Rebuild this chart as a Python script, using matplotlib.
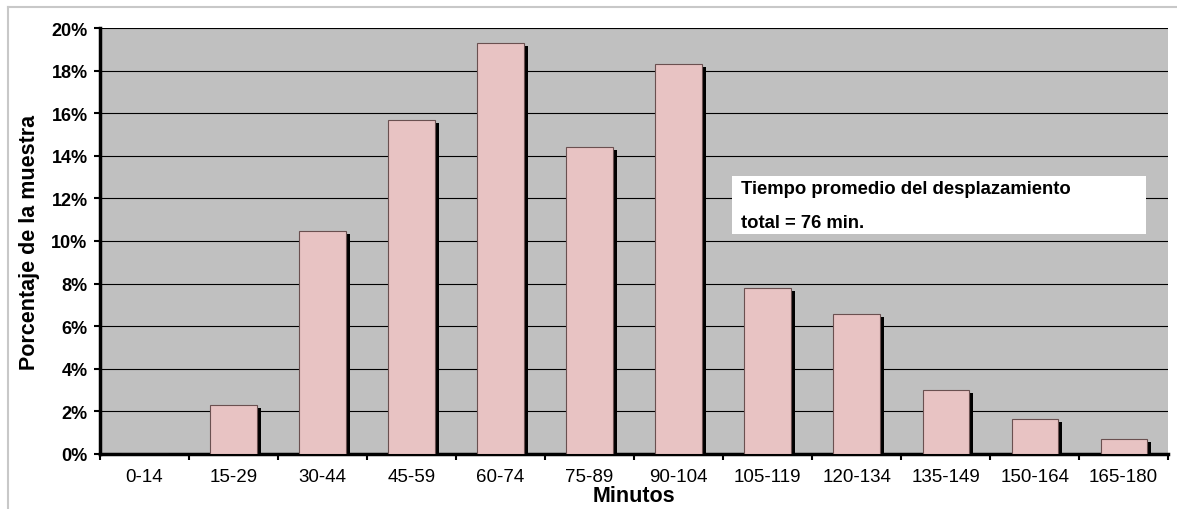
import matplotlib.pyplot as plt
import numpy as np
from matplotlib.lines import Line2D

categorias = ['0-14', '15-29', '30-44', '45-59', '60-74', '75-89', '90-104',
              '105-119', '120-134', '135-149', '150-164', '165-180']
porcentaje = [0.0, 2.3, 10.45, 15.7, 19.3, 14.4, 18.3, 7.8, 6.55, 3.0, 1.65, 0.7]
yticks = [0, 2, 4, 6, 8, 10, 12, 14, 16, 18, 20]

plt.rcParams['font.family'] = ['Liberation Sans', 'DejaVu Sans']

fig = plt.figure(figsize=(11.77, 5.10), dpi=100)
ax = fig.add_axes([0.085, 0.108, 0.9075, 0.835])
ax.set_facecolor('#c0c0c0')

x = np.arange(len(categorias))
w = 0.52
# shadow behind the bars
for xi, v in zip(x, porcentaje):
    if v > 0:
        ax.bar(xi + 0.045, v - 0.14, width=w, color='black', zorder=2)
ax.bar(x, porcentaje, width=w, color='#e8c3c3', edgecolor='#6a5050',
       linewidth=0.8, zorder=3)

ax.set_xlim(-0.5, len(categorias) - 0.5)
ax.set_ylim(0, 20)
ax.set_yticks(yticks)
ax.set_yticklabels([f'{t}%' for t in yticks], fontsize=13, fontweight='bold')
ax.set_xticks(x)
ax.set_xticklabels(categorias, fontsize=13.5)
ax.set_xticks(np.arange(len(categorias) + 1) - 0.5, minor=True)
ax.tick_params(axis='x', which='major', length=0, pad=10)
ax.tick_params(axis='x', which='minor', length=4, width=1.5, direction='out')
ax.tick_params(axis='y', length=4, width=1.5, direction='out', pad=5)
ax.grid(axis='y', color='black', linewidth=0.8, zorder=1)
ax.set_axisbelow(True)

for s in ['top', 'right']:
    ax.spines[s].set_visible(False)
ax.spines['left'].set_linewidth(2.5)
ax.spines['bottom'].set_linewidth(2.5)

ax.set_ylabel('Porcentaje de la muestra', fontsize=15.5, fontweight='bold', labelpad=8)
ax.set_xlabel('Minutos', fontsize=15.5, fontweight='bold', labelpad=0)

# annotation box
fig.patches.append(plt.Rectangle((732 / 1177, 1 - 235 / 510), 414 / 1177, 58 / 510,
                                 transform=fig.transFigure, facecolor='white',
                                 edgecolor='none', zorder=5))
fig.text(741 / 1177, 1 - 189 / 510, 'Tiempo promedio del desplazamiento',
         fontsize=13.3, fontweight='bold', va='center', zorder=6)
fig.text(741 / 1177, 1 - 224 / 510, 'total = 76 min.',
         fontsize=13.3, fontweight='bold', va='center', zorder=6)

# outer chart border
fig.add_artist(Line2D([8 / 1177, 1], [1 - 8 / 510, 1 - 8 / 510],
                      transform=fig.transFigure, color='#c8c8c8', linewidth=1.5))
fig.add_artist(Line2D([8 / 1177, 8 / 1177], [0, 1 - 8 / 510],
                      transform=fig.transFigure, color='#c8c8c8', linewidth=1.5))

fig.savefig('out.png', dpi=100)
